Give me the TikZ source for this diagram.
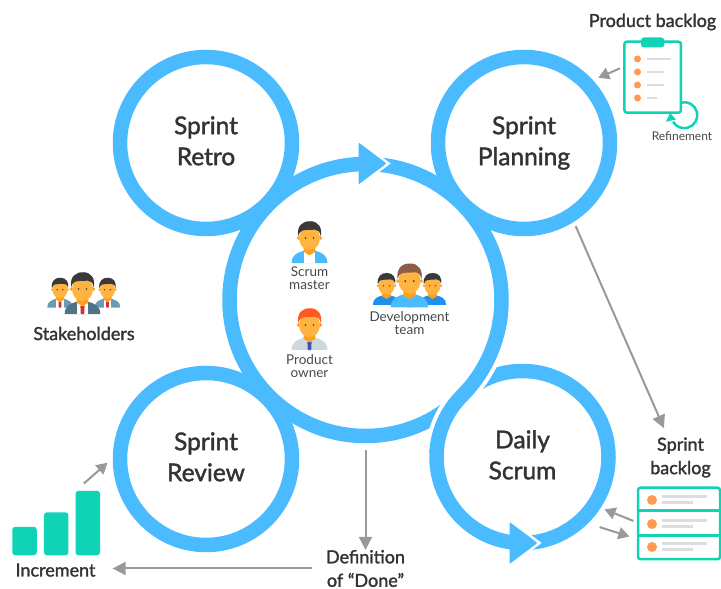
\documentclass[tikz,border=0pt]{standalone}
\usepackage{fontspec}
\setmainfont{Lato}
\newfontfamily\headfont{Lato}[FakeBold=1.6]
\usetikzlibrary{arrows.meta}
\definecolor{ringblue}{HTML}{4ABBFF}
\definecolor{tealc}{HTML}{10D3B6}
\definecolor{dotc}{HTML}{FF9A52}
\definecolor{linec}{HTML}{DDDDDD}
\definecolor{flowc}{HTML}{999999}
\definecolor{skinc}{HTML}{FFB340}
\definecolor{neckc}{HTML}{FF9F1C}
\definecolor{inkc}{HTML}{333333}
\definecolor{softc}{HTML}{484848}
\definecolor{hairc}{HTML}{3A3A3A}
\definecolor{brownc}{HTML}{8B5E45}
\definecolor{redhair}{HTML}{FF5A1F}
\definecolor{suitgrey}{HTML}{CFD8DC}
\definecolor{tieblue}{HTML}{3F51B5}
\definecolor{teamblue}{HTML}{1E90F0}
\definecolor{suitside}{HTML}{6A9BB5}
\definecolor{suitmain}{HTML}{4F7488}
\definecolor{tiered}{HTML}{D32F2F}
\newcommand{\personicon}[7]{%
    \begin{scope}[shift={(#1,#2)},x=#3pt,y=#3pt]
        \fill[#5] (-1.7,-2.5) .. controls (-1.7,-1.7) and (-1.2,-1.5) .. (-0.5,-1.3) -- (0.5,-1.3) .. controls (1.2,-1.5) and (1.7,-1.7) .. (1.7,-2.5) -- cycle;
        \fill[#6] (-0.5,-2.5) rectangle (0.5,-1.4);
        \fill[#7] (-0.16,-2.5) -- (-0.2,-1.7) -- (0.2,-1.7) -- (0.16,-2.5) -- cycle;
        \fill[neckc] (-0.55,-0.9) -- (0.55,-0.9) -- (0.55,-1.4) -- (0,-1.75) -- (-0.55,-1.4) -- cycle;
        \fill[neckc] (-1.05,-0.1) circle (0.17) (1.05,-0.1) circle (0.17);
        \fill[skinc] (0,-0.1) circle [x radius=1, y radius=1.15];
        \fill[#4] (-1.08,0.05) .. controls (-1.25,1.1) and (-0.6,1.55) .. (0.1,1.5) .. controls (0.8,1.5) and (1.25,0.9) .. (1.08,0.05) .. controls (1,0.5) and (0.8,0.7) .. (0.5,0.7) .. controls (0,0.65) and (-0.4,0.7) .. (-0.7,0.6) .. controls (-0.9,0.5) and (-1,0.4) .. cycle;
        \fill[hairc] (-0.38,-0.1) circle (0.09) (0.38,-0.1) circle (0.09);
    \end{scope}}

\begin{document}
\begin{tikzpicture}[x=1pt,y=1pt,
                    ring/.style={circle, draw=ringblue, line width=14.5pt, inner sep=0pt, outer sep=0pt, align=center, text=inkc, font=\headfont\fontsize{24.5}{31}\selectfont},
                    small/.style={circle, ring, minimum size=172pt},
                    title/.style={align=center, text=inkc, inner sep=0pt, font=\headfont\fontsize{18}{23.5}\selectfont},
                    tiny/.style={align=center, text=softc, inner sep=0pt, font=\fontsize{13.5}{13}\selectfont},
                    flow/.style={draw=flowc, line width=2pt, -{Triangle[length=13pt,width=13pt]}},
                    shortflow/.style={draw=flowc, line width=2pt, -{Triangle[length=11pt,width=12pt]}},
                    frame/.style={draw=tealc, line width=2.5pt, fill=white, rounded corners=2.5pt, inner sep=0pt, outer sep=0pt},
                    bar/.style={fill=tealc, rounded corners=3pt, inner sep=0pt, outer sep=0pt, minimum width=24.5pt, anchor=south},
                ]
    \useasboundingbox (0,0) rectangle (721,589);

    % the five rings
    \node[ring, minimum size=272pt] (central) at (365.5,289) {};
    \node[small] (retro) at (206,446) {Sprint\\Retro\vphantom{g}};
    \node[small] (planning) at (524,446) {Sprint\\Planning};
    \node[small] (review) at (206,130) {Sprint\\Review\vphantom{g}};
    \node[small] (daily) at (522.5,132) {Daily\\Scrum\vphantom{g}};

    % central ring runs on into the left of daily
    \draw[white, line width=22.5pt] (central.-10) arc[start angle=-10, end angle=-45, radius=136pt] arc[start angle=135, end angle=175, radius=86pt];
    \draw[ringblue, line width=14.5pt] (central.-8) arc[start angle=-8, end angle=-45, radius=136pt] arc[start angle=135, end angle=177, radius=86pt];

    % arrow heads on the rings
    \foreach \tx/\ty in {386.5/425.5, 537.5/46} {
        \draw[white, line width=5pt] (\tx-28,\ty+21) -- (\tx,\ty) -- (\tx-28,\ty-21);
        \fill[ringblue, rounded corners=1pt] (\tx-28,\ty+21) -- (\tx,\ty) -- (\tx-28,\ty-21) -- cycle;
    }

    % people
    \personicon{309.5}{352}{10.5}{hairc}{ringblue}{white}{white}
    \personicon{309.5}{265}{10.5}{redhair}{suitgrey}{suitgrey}{tieblue}
    \personicon{386.5}{304}{8}{hairc}{teamblue}{teamblue}{teamblue}
    \personicon{432.5}{304}{8}{hairc}{teamblue}{teamblue}{teamblue}
    \personicon{409.5}{309}{11}{brownc}{ringblue}{ringblue}{ringblue}
    \personicon{60}{300}{7.5}{hairc}{suitside}{white}{tiered}
    \personicon{107.5}{300}{7.5}{hairc}{suitside}{white}{tiered}
    \personicon{82.5}{301}{10.5}{hairc}{suitmain}{white}{tiered}

    \node[tiny] (scrummaster) at (309.5,310.5) {Scrum\\master};
    \node[tiny] (productowner) at (309.5,222.5) {Product\\owner};
    \node[tiny] (devteam) at (409.5,265.5) {Development\\team};
    \node[title] (stakeholders) at (84,255.5) {Stakeholders};

    % product backlog
    \node[title] (productlabel) at (652.5,567) {Product backlog};
    \node[frame, minimum width=56.5pt, minimum height=71pt] (clipboard) at (652.7,511.8) {};
    \fill[tealc, rounded corners=3pt] (641,551.5) rectangle (664.3,541.5);
    \foreach \y/\e in {530/671, 517/664, 504/664, 491/657} {
        \fill[dotc] (637.5,\y) circle (3.5);
        \draw[linec, line width=2pt] (647,\y) -- (\e,\y);
    }
    \draw[tealc, line width=2.5pt] (clipboard.-42) arc[start angle=105, end angle=-150, radius=13pt];
    \fill[tealc] (670,476) -- (666,467.3) -- (676,469.5) -- cycle;
    \node[tiny, font=\fontsize{12}{13}\selectfont] (refinement) at (682,453) {Refinement};

    % sprint backlog
    \node[title] (sprintlabel) at (680.5,131.5) {Sprint\\backlog};
    \node[frame, minimum width=82pt, minimum height=71.5pt] (sprintlog) at (679,65.5) {};
    \draw[tealc, line width=2.5pt] (sprintlog.west |- 0,78.5) -- (sprintlog.east |- 0,78.5) (sprintlog.west |- 0,53.5) -- (sprintlog.east |- 0,53.5);
    \foreach \y in {89, 65, 42} {
        \fill[dotc] (652,\y) circle (5);
        \draw[linec, line width=2.5pt] (662,\y+3.5) -- (707,\y+3.5);
        \draw[linec, line width=2.5pt] (662,\y-2.5) -- (693,\y-2.5);
    }

    % increment
    \node[bar, minimum height=28.5pt] (bar1) at (24.5,33.7) {};
    \node[bar, minimum height=43pt] (bar2) at (56.2,33.7) {};
    \node[bar, minimum height=64.5pt] (bar3) at (87.8,33.7) {};
    \node[title, text height=16pt, text depth=0pt] (increment) at (55.5,20.5) {Increment};
    \node[title] (done) at (365.5,20.5) {Definition\\of “Done”};

    \draw[flow, shorten <=14pt] (central.south) -- (done.north);
    \draw[flow, shorten <=14pt, shorten >=17pt] (done.west) -- (increment.east);
    \draw[shortflow, shorten <=11pt, shorten >=17pt] (bar3.north west) -- (review.175);
    \draw[shortflow, shorten <=5pt, shorten >=13.5pt] (clipboard.159) -- (planning.44);
    \draw[flow, shorten <=12pt, shorten >=10pt] (planning.-57) -- (sprintlabel.122);
    \draw[shortflow, shorten <=5pt, shorten >=11.5pt] (sprintlog.179) -- (daily.-34);
    \draw[shortflow, shorten <=20.5pt, shorten >=9pt] (daily.-48) -- (sprintlog.201);
\end{tikzpicture}
\end{document}
